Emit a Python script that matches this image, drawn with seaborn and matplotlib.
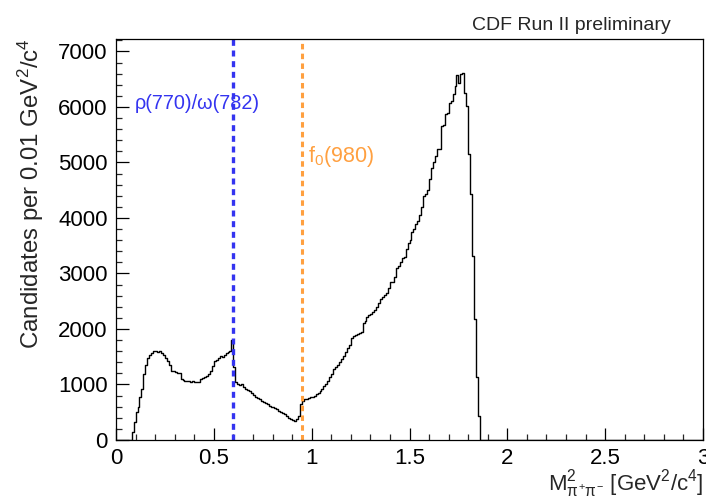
import numpy as np
import pandas as pd
import matplotlib
matplotlib.use("Agg")
import matplotlib.pyplot as plt
import seaborn as sns
from matplotlib.ticker import MultipleLocator

# ---------------- data ----------------
bin_width = 0.01
first_bin_low = 0.08
counts = [
    150, 330, 500, 590, 770, 920, 1180, 1360, 1480, 1540,      # 0.08-0.17
    1570, 1600, 1610, 1590, 1600, 1560, 1540, 1480, 1420, 1360,  # 0.18-0.27
    1250, 1240, 1230, 1210, 1200, 1090, 1080, 1070, 1060, 1070,  # 0.28-0.37
    1050, 1060, 1040, 1050, 1040, 1090, 1110, 1130, 1160, 1180,  # 0.38-0.47
    1240, 1330, 1420, 1450, 1480, 1510, 1500, 1540, 1570, 1580,  # 0.48-0.57
    1600, 1800, 1310, 1050, 1010, 990, 1000, 960, 910, 900,      # 0.58-0.67
    880, 850, 810, 780, 760, 730, 710, 690, 660, 640,            # 0.68-0.77
    620, 600, 590, 570, 550, 530, 500, 480, 460, 430,            # 0.78-0.87
    400, 380, 360, 340, 370, 430, 650, 700, 730, 740,            # 0.88-0.97
    750, 770, 780, 800, 830, 850, 890, 920, 970, 1010,           # 0.98-1.07
    1070, 1130, 1190, 1280, 1310, 1350, 1400, 1460, 1520, 1590,  # 1.08-1.17
    1660, 1710, 1840, 1870, 1900, 1910, 1930, 1940, 2110, 2150,  # 1.18-1.27
    2210, 2260, 2270, 2300, 2350, 2390, 2470, 2540, 2580, 2620,  # 1.28-1.37
    2650, 2740, 2840, 2850, 2940, 3100, 3140, 3200, 3270, 3300,  # 1.38-1.47
    3440, 3550, 3610, 3750, 3810, 3890, 3950, 4050, 4190, 4400,  # 1.48-1.57
    4430, 4510, 4700, 4900, 5000, 5120, 5240, 5250, 5660, 5680,  # 1.58-1.67
    5870, 5900, 6070, 6100, 6230, 6380, 6570, 6440, 6600, 6620,  # 1.68-1.77
    6250, 6020, 5150, 4430, 3310, 2180, 1130, 440,               # 1.78-1.85
]
x_min, x_max = 0.0, 3.0
y_min, y_max = 0.0, 7220.0
rho_omega_pos = 0.60
f0_pos = 0.952

# ---------------- figure ----------------
sns.set_theme(style="ticks")
plt.rcParams["font.family"] = ["Liberation Sans", "DejaVu Sans"]
plt.rcParams["mathtext.fontset"] = "custom"
plt.rcParams["mathtext.rm"] = "Liberation Sans"
plt.rcParams["mathtext.it"] = "Liberation Sans"
plt.rcParams["mathtext.bf"] = "Liberation Sans:bold"

centers = first_bin_low + bin_width * (np.arange(len(counts)) + 0.5)
df = pd.DataFrame({"mass2": centers, "cand": np.asarray(counts, dtype=float)})

fig = plt.figure(figsize=(7.06, 5.01), dpi=100)
fig.patch.set_facecolor("white")
ax = fig.add_axes([0.1643, 0.1218, 0.8315, 0.7998])
ax.set_facecolor("white")

sns.histplot(data=df, x="mass2", weights="cand", binwidth=bin_width,
             binrange=(x_min, x_max), element="step",
             fill=False, color="black", linewidth=1.0, ax=ax)

blue = "#3434f0"
orange = "#ffa040"
ax.axvline(rho_omega_pos, color=blue, linestyle=(0, (1.8, 1.4)), linewidth=2.4)
ax.axvline(f0_pos, color=orange, linestyle=(0, (1.8, 1.4)), linewidth=2.2)

ax.text(0.097, 6070, "ρ(770)/ω(782)", color=blue, fontsize=14.3,
        ha="left", va="center")
ax.text(0.981, 5100, "f$_0$(980)", color=orange, fontsize=15.5,
        ha="left", va="center")

ax.set_xlim(x_min, x_max)
ax.set_ylim(y_min, y_max)
ax.set_xlabel("")
ax.set_ylabel("")

ax.xaxis.set_major_locator(MultipleLocator(0.5))
ax.xaxis.set_minor_locator(MultipleLocator(0.1))
ax.yaxis.set_major_locator(MultipleLocator(1000))
ax.yaxis.set_minor_locator(MultipleLocator(200))
ax.set_xticks([0, 0.5, 1, 1.5, 2, 2.5, 3])
ax.set_xticklabels(["0", "0.5", "1", "1.5", "2", "2.5", "3"])
ax.tick_params(axis="both", which="major", direction="in", length=9,
               width=0.9, labelsize=16, pad=6, colors="black")
ax.tick_params(axis="both", which="minor", direction="in", length=4.5,
               width=0.9)
for s in ax.spines.values():
    s.set_linewidth(0.9)
    s.set_color("black")

fig.text(0.044, 0.924, "Candidates per 0.01 GeV$^2$/c$^4$", rotation=90,
         ha="center", va="top", fontsize=17.3)
fig.text(0.997, 0.034, r"M$^{2}_{\pi^{+}\pi^{-}}$ [GeV$^2$/c$^4$]",
         ha="right", va="center", fontsize=16)
fig.text(0.950, 0.950, "CDF Run II preliminary", ha="right", va="center",
         fontsize=14)

fig.savefig("out.png", dpi=100)
